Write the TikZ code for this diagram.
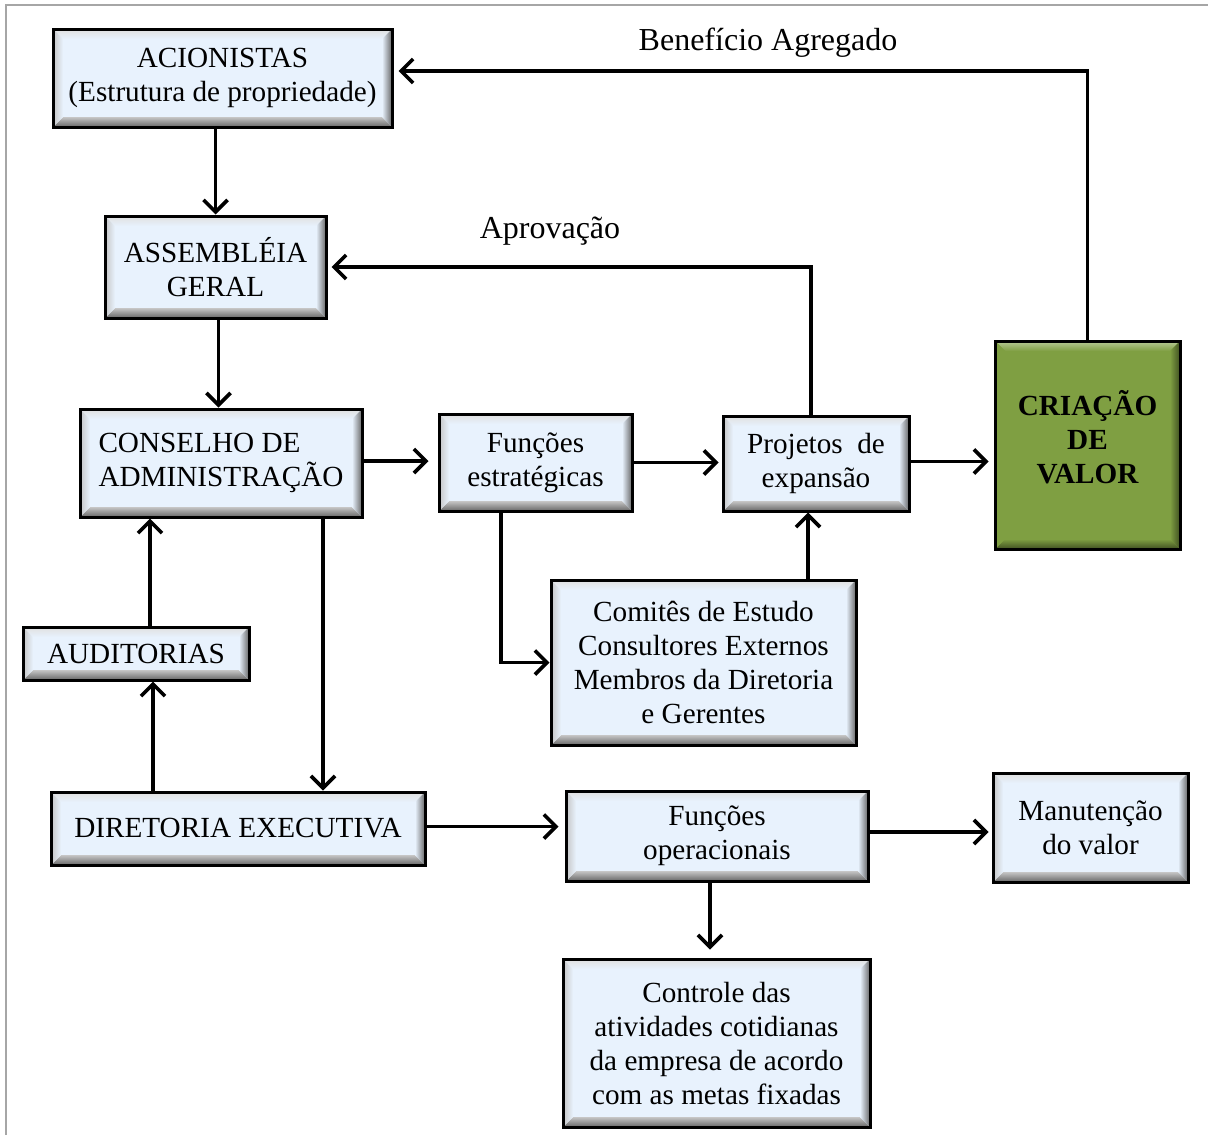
\documentclass[tikz,border=0pt]{standalone}
\usepackage{fontspec}
\setmainfont{Liberation Serif}
\usetikzlibrary{arrows.meta,calc}
\definecolor{boxblue}{RGB}{232,242,253}
\definecolor{valgreen}{RGB}{127,159,66}
\tikzset{
  bevel/.style n args={4}{path picture={
      \coordinate (sw) at (path picture bounding box.south west);
      \coordinate (ne) at (path picture bounding box.north east);
      \coordinate (se) at (sw -| ne);
      \coordinate (nw) at (sw |- ne);
      \coordinate (isw) at ([shift={(5pt,5pt)}]sw);
      \coordinate (ine) at ([shift={(-5pt,-5pt)}]ne);
      \coordinate (ise) at ([shift={(-5pt,5pt)}]se);
      \coordinate (inw) at ([shift={(5pt,-5pt)}]nw);
      \shade[top color=#2,bottom color=#3] (sw) -- (se) -- (ise) -- (isw) -- cycle;
      \shade[top color=#4,bottom color=#1] (nw) -- (ne) -- (ine) -- (inw) -- cycle;
      \shade[left color=#2,right color=#1] (sw) -- (nw) -- (inw) -- (isw) -- cycle;
      \shade[left color=#1,right color=#3] (se) -- (ne) -- (ine) -- (ise) -- cycle;
  }}
}
\begin{document}
\begin{tikzpicture}
  [x=0.5pt,y=-0.5pt,
   Box/.style={draw=black,line width=1.5pt,fill=boxblue,align=center,inner sep=0pt,
     font=\fontsize{14.6}{17}\selectfont,bevel={boxblue}{gray!45}{black!60}{gray!25}},
   Value/.style={Box,fill=valgreen,font=\fontsize{14.6}{17}\selectfont\bfseries,
     bevel={valgreen}{valgreen}{valgreen!50!black}{valgreen!55!white}},
   arr/.style={line width=1.8pt,-{Straight Barb[length=6pt,width=12pt,line width=1.8pt]}},
   lbl/.style={font=\fontsize{16}{19}\selectfont}]
  \useasboundingbox (0,0) rectangle (1208,1135);
  \draw[gray!70,line width=1pt] (6,1135) -- (6,5) -- (1208,5);

  \node[Box,minimum width=169.5pt,minimum height=49pt] (acionistas) at (222.5,78)
    {ACIONISTAS\\(Estrutura de propriedade)};
  \node[Box,minimum width=110.5pt,minimum height=51pt] (assembleia) at (215.5,267)
    {ASSEMBLÉIA\\GERAL};
  \node[Box,align=left,minimum width=141pt,minimum height=54pt] (conselho) at (221,463)
    {CONSELHO DE\\ADMINISTRAÇÃO};
  \node[Box,minimum width=96.5pt,minimum height=48.5pt] (funcest) at (535.5,462.5)
    {Funções\\estratégicas};
  \node[Box,minimum width=93pt,minimum height=47.5pt] (projetos) at (816,463.5)
    {Projetos\ \ de\\expansão};
  \node[Value,minimum width=92.5pt,minimum height=104pt] (criacao) at (1087.5,445)
    {CRIAÇÃO\\DE\\VALOR\\[-9pt]};
  \node[Box,minimum width=152.5pt,minimum height=82.5pt] (comites) at (703.5,662.5)
    {Comitês de Estudo\\Consultores Externos\\Membros da Diretoria\\e Gerentes};
  \node[Box,minimum width=113pt,minimum height=26.5pt] (auditorias) at (136,653.5)
    {AUDITORIAS};
  \node[Box,minimum width=187pt,minimum height=36.5pt] (diretoria) at (238,828.5)
    {DIRETORIA EXECUTIVA};
  \node[Box,minimum width=151pt,minimum height=45pt] (funcop) at (717,836)
    {Funções\\operacionais};
  \node[Box,minimum width=97.5pt,minimum height=54.5pt] (manutencao) at (1090.5,827.5)
    {Manutenção\\do valor};
  \node[Box,minimum width=153.5pt,minimum height=84pt] (controle) at (716.5,1043)
    {Controle das\\atividades cotidianas\\da empresa de acordo\\com as metas fixadas};

  \node[lbl] (beneficio) at (768,43) {Benefício Agregado};
  \node[lbl] (aprovacao) at (550,231) {Aprovação};

  \coordinate (pj) at ([xshift=-4pt]projetos.south);
  \coordinate (au) at ([xshift=7pt]auditorias.north);
  \coordinate (di) at ([xshift=-42.5pt]diretoria.north);
  \coordinate (cs) at ([xshift=51pt]conselho.south);

  \draw[arr] (acionistas.south -| assembleia.north) -- (assembleia.north);
  \draw[arr] ([xshift=1.5pt]assembleia.south) -- ([xshift=1.5pt]assembleia.south |- conselho.north);
  \draw[arr,shorten >=4.5pt] ([yshift=1pt]conselho.east) -- ([yshift=1pt]conselho.east -| funcest.west);
  \draw[arr,shorten >=1.5pt] (funcest.east) -- (funcest.east -| projetos.west);
  \draw[arr,shorten >=2.5pt] ([yshift=1pt]projetos.east) -- ([yshift=1pt]projetos.east -| criacao.west);
  \draw[arr,shorten >=2pt] ([xshift=-2.5pt]projetos.north) |- (assembleia.east);
  \draw[arr,shorten >=2.5pt] (criacao.north) |- ([yshift=3.5pt]acionistas.east);
  \draw[arr] ([xshift=-17.25pt]funcest.south) |- (comites.west);
  \draw[arr] (pj |- comites.north) -- (pj);
  \draw[arr] (au) -- (au |- conselho.south);
  \draw[arr] (di) -- (di |- auditorias.south);
  \draw[arr] (cs) -- (cs |- diretoria.north);
  \draw[arr,shorten >=3pt] ([yshift=1pt]diretoria.east) -- ([yshift=1pt]diretoria.east -| funcop.west);
  \draw[arr,shorten >=1.5pt] ([yshift=2pt]funcop.east) -- ([yshift=2pt]funcop.east -| manutencao.west);
  \draw[arr,shorten >=4pt] ([xshift=-3.5pt]funcop.south) -- ([xshift=-3.5pt]funcop.south |- controle.north);
\end{tikzpicture}
\end{document}
